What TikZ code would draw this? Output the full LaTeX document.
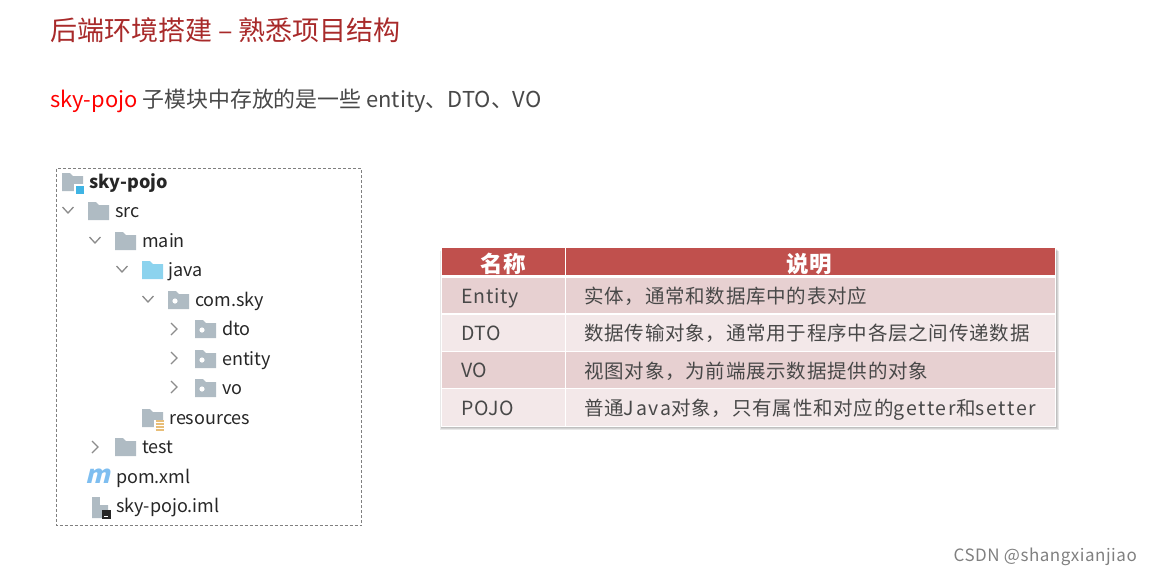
\documentclass[tikz,border=0pt]{standalone}
\usepackage{fontspec}
\setmainfont{Noto Sans CJK SC}
\newfontfamily\tablefont[LetterSpace=4]{Noto Sans CJK SC}
\newfontfamily\widefont[LetterSpace=9]{Noto Sans CJK SC}
\newfontfamily\markfont[LetterSpace=3]{Noto Sans CJK SC}
\usepackage{xcolor}
\definecolor{titlered}{HTML}{A82A2A}
\definecolor{bodygray}{HTML}{484848}
\definecolor{headred}{HTML}{C0504D}
\definecolor{rowdark}{HTML}{E7D0D1}
\definecolor{rowlight}{HTML}{F3E8E9}
\definecolor{foldergray}{HTML}{AFBBC3}
\definecolor{folderblue}{HTML}{8CD3EE}
\definecolor{squareblue}{HTML}{3FB4E4}
\definecolor{linesorange}{HTML}{E8BE78}
\tikzset{
  x=1pt, y=-1pt,
  titletext/.style={anchor=west, inner sep=0pt, font=\fontsize{27}{30}\selectfont, text=titlered},
  subtext/.style={anchor=base west, inner sep=0pt, font=\fontsize{21.9}{24}\selectfont, text=bodygray},
  treeitem/.style={anchor=west, inner sep=0pt, text height=17pt, text depth=4pt, font=\fontsize{18}{22}\selectfont, text=black!85},
  headcell/.style={fill=headred, minimum height=27pt},
  headlabel/.style={inner sep=0pt, text=white, font=\tablefont\fontsize{22.5}{24}\selectfont\bfseries},
  namecell/.style={anchor=west, inner sep=0pt, text height=17pt, text depth=3pt, text=bodygray, font=\tablefont\fontsize{19.5}{22}\selectfont},
  textcell/.style={namecell},
  chevron/.style={draw=black!45, line width=1.3pt},
  pics/folder/.style={code={
    \fill[#1] (0,-9) -- (8,-9) -- (11,-6) -- (21,-6) -- (21,9) -- (0,9) -- cycle;
  }},
  pics/package/.style={code={
    \fill[foldergray] (0,-9) -- (8,-9) -- (11,-6) -- (21,-6) -- (21,9) -- (0,9) -- cycle;
    \fill[white] (7,1) circle (2.6);
  }},
  pics/open/.style={code={
    \draw[chevron] (-5.5,-3) -- (0,3) -- (5.5,-3);
  }},
  pics/closed/.style={code={
    \draw[chevron] (-3,-6) -- (3,0) -- (-3,6);
  }}
}
\begin{document}
\begin{tikzpicture}
  \useasboundingbox (0,0) rectangle (1152,576);

  \node[titletext] (title) at (50,30) {后端环境搭建 – 熟悉项目结构};
  \node[subtext] (subhead) at (50,107) {\textcolor{red}{sky-pojo} 子模块中存放的是一些 entity、DTO、VO};

  % project tree
  \draw[densely dashed, draw=black!50] (56.5,168.5) rectangle (361.5,525.5);
  \pic at (62,182) {folder=foldergray};
  \fill[white] (74,184) rectangle (85,194);
  \fill[squareblue] (76,186) rectangle (84,194);
  \node[treeitem, font=\fontsize{18}{22}\selectfont\bfseries] (root) at (89,182) {sky-pojo};

  \pic at (68,210) {open};
  \pic at (88,211) {folder=foldergray};
  \node[treeitem] (src) at (115,211) {src};
  \pic at (95,240) {open};
  \pic at (115,241) {folder=foldergray};
  \node[treeitem] (main) at (142,241) {main};
  \pic at (122,269) {open};
  \pic at (142,270) {folder=folderblue};
  \node[treeitem] (java) at (168,270) {java};
  \pic at (148,299) {open};
  \pic at (168,300) {package};
  \node[treeitem] (comsky) at (195,300) {com.sky};
  \pic at (174,329) {closed};
  \pic at (195,329) {package};
  \node[treeitem] (dto) at (222,329) {dto};
  \pic at (174,358) {closed};
  \pic at (195,359) {package};
  \node[treeitem] (entity) at (222,359) {entity};
  \pic at (174,387) {closed};
  \pic at (195,388) {package};
  \node[treeitem] (vo) at (222,388) {vo};

  \pic at (142,418) {folder=foldergray};
  \fill[white] (154,420) rectangle (165,431);
  \foreach \y in {421,424,427,430} {
    \draw[draw=linesorange, line width=1.6pt] (155.5,\y) -- (164,\y);
  }
  \node[treeitem] (resources) at (169,418) {resources};

  \pic at (95,447) {closed};
  \pic at (115,447) {folder=foldergray};
  \node[treeitem] (test) at (142,447) {test};

  \node[anchor=west, inner sep=0pt, text=folderblue!90!blue, xslant=.25, font=\fontsize{25}{28}\selectfont\bfseries] (mark) at (87,476) {m};
  \node[treeitem] (pom) at (116,477) {pom.xml};

  \fill[foldergray] (92,497) -- (100,497) -- (100,505) -- (108,505) -- (108,518) -- (92,518) -- cycle;
  \fill[white] (100,497) rectangle (101.5,505);
  \fill[black!85] (102,510) rectangle (111,519);
  \fill[white] (104,515.5) rectangle (108,516.5);
  \node[treeitem] (iml) at (116,506) {sky-pojo.iml};

  % table
  \foreach \d in {4,3,2,1} {
    \fill[black, opacity=.09] (442-\d/2,247+\d) rectangle (1055+\d,426+\d);
  }
  \fill[white] (441,247) rectangle (1056,427);
  \node[headcell, minimum width=123pt, inner sep=0pt] (headname) at (503.5,261.5) {};
  \node[headcell, minimum width=489pt, inner sep=0pt] (headtext) at (810.5,261.5) {};
  \node[headlabel] (headnamelabel) at (503.5,264) {名称};
  \node[headlabel] (headtextlabel) at (809,264) {说明};

  \fill[rowdark] (442,278) rectangle (565,313);
  \fill[rowdark] (566,278) rectangle (1055,313);
  \fill[rowlight] (442,315) rectangle (565,351);
  \fill[rowlight] (566,315) rectangle (1055,351);
  \fill[rowdark] (442,352) rectangle (565,388);
  \fill[rowdark] (566,352) rectangle (1055,388);
  \fill[rowlight] (442,389) rectangle (565,426);
  \fill[rowlight] (566,389) rectangle (1055,426);

  \node[namecell] (entityname) at (461,296) {Entity};
  \node[textcell] (entitytext) at (584,296) {实体，通常和数据库中的表对应};
  \node[namecell] (dtoname) at (461,333) {DTO};
  \node[textcell] (dtotext) at (584,333) {数据传输对象，通常用于程序中各层之间传递数据};
  \node[namecell] (voname) at (461,370) {VO};
  \node[textcell] (votext) at (584,371) {视图对象，为前端展示数据提供的对象};
  \node[namecell] (pojoname) at (461,408) {POJO};
  \node[textcell] (pojotext) at (584,408) {普通{\widefont\fontsize{19.5}{22}\selectfont Java}对象，只有属性和对应的{\widefont\fontsize{19.5}{22}\selectfont getter}和{\widefont\fontsize{19.5}{22}\selectfont setter}};

  \node[anchor=east, inner sep=0pt, text=black!50, font=\markfont\fontsize{17}{20}\selectfont] (watermark) at (1137,557) {CSDN @shangxianjiao};
\end{tikzpicture}
\end{document}
